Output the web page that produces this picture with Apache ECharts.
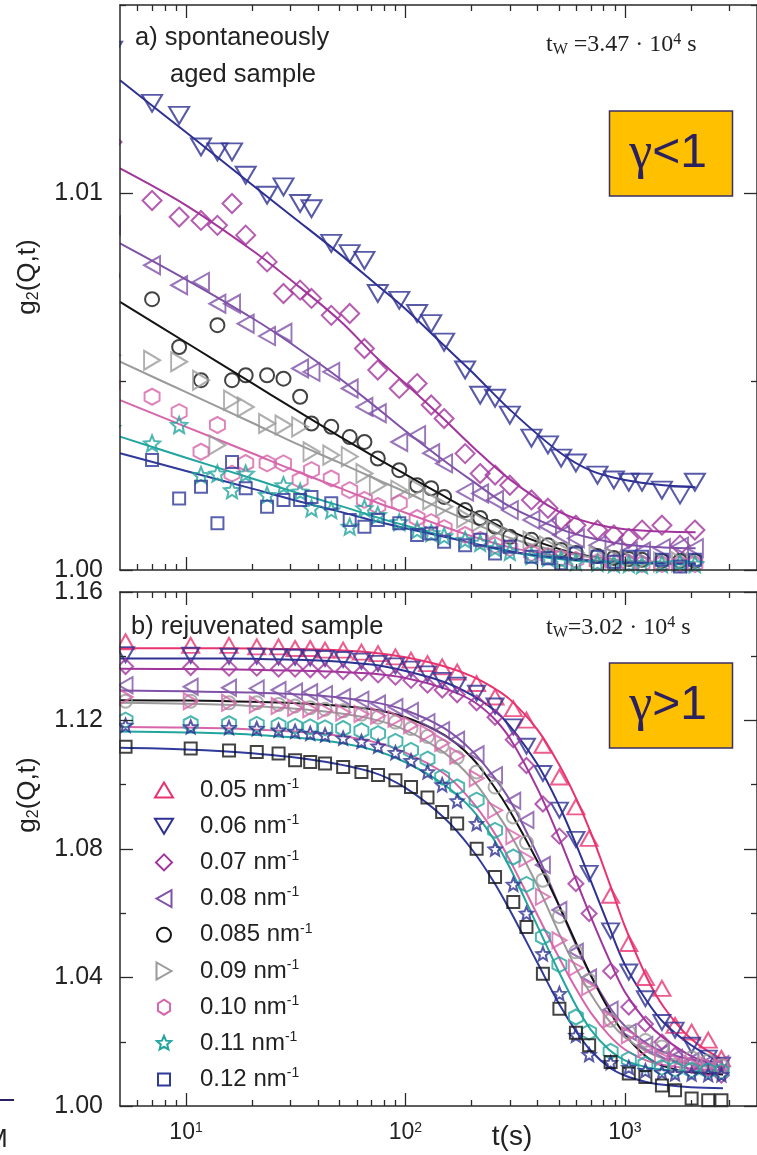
<!DOCTYPE html>
<html lang="en">
<head>
<meta charset="utf-8">
<title>g2(Q,t) of aged and rejuvenated samples</title>
<script src="https://cdn.jsdelivr.net/npm/echarts@6/dist/echarts.min.js"></script>
<style>
html,body{margin:0;padding:0;background:#fff;}
#chart{width:757px;height:1155px;}
</style>
</head>
<body>
<div id="chart"></div>
<script>
// ---------------------------------------------------------------- data
// Scattering vectors (nm^-1)
const qLabels = ['0.05', '0.06', '0.07', '0.08', '0.085', '0.09', '0.10', '0.11', '0.12'];

// Panel a (spontaneously aged): lag times in s, g2 - 1 in units of 1e-3
const tA = [4.6, 7, 9.3, 11.7, 13.9, 16.2, 18.7, 23.4, 27.8, 33.1, 37.3, 45.9, 55.7, 65, 74.8, 93.7, 113, 131, 150, 187, 219, 256, 299, 375, 446, 512, 598, 750, 891, 1042, 1197, 1475, 1783, 2085];
const a06 = [13.8, 12.39, 12.07, 11.23, 11.10, 11.10, 10.48, 9.95, 10.17, 9.73, 9.59, 8.67, 8.40, 8.22, 7.34, 7.16, 6.81, 6.54, 6.05, 5.31, 4.64, 4.56, 4.11, 3.50, 3.32, 2.97, 2.84, 2.52, 2.39, 2.33, 2.33, 2.12, 1.99, 2.33];
const a07 = [11.36, 9.81, 9.37, 9.28, 9.15, 9.73, 8.89, 8.18, 7.34, 7.43, 7.21, 6.76, 6.81, 5.88, 5.31, 4.82, 4.95, 4.38, 4.02, 3.09, 2.56, 2.52, 2.25, 1.86, 1.64, 1.33, 1.19, 1.06, 0.93, 0.84, 1.06, 1.19, 0.66, 1.06];
const a08 = [9.15, 8.09, 7.56, 7.65, 7.07, 7.07, 6.54, 6.21, 6.30, 5.35, 5.26, 5.26, 4.82, 4.33, 4.16, 3.40, 3.58, 3.10, 2.83, 2.08, 2.03, 1.86, 1.59, 1.33, 1.15, 0.93, 0.84, 0.66, 0.58, 0.49, 0.49, 0.58, 0.62, 0.58];
const a085 = [7.82, 7.19, 5.92, 5.04, 6.50, 5.04, 5.17, 5.17, 5.08, 4.60, 3.89, 3.80, 3.53, 3.40, 2.96, 2.65, 2.25, 2.17, 1.94, 1.59, 1.38, 1.15, 0.88, 0.80, 0.66, 0.53, 0.45, 0.37, 0.32, 0.29, 0.27, 0.24, 0.24, 0.24];
const a09 = [5.70, 5.57, 5.53, 5.04, 3.32, 4.51, 4.33, 3.89, 3.85, 3.80, 3.14, 3.05, 3.01, 2.56, 2.25, 2.12, 2.17, 1.86, 1.68, 1.38, 1.28, 1.06, 0.90, 0.77, 0.64, 0.53, 0.45, 0.37, 0.32, 0.27, 0.24, 0.21, 0.21, 0.19];
const a10 = [4.91, 4.60, 4.19, 3.14, 3.85, 2.56, 2.84, 2.83, 2.83, 2.39, 2.65, 2.43, 2.12, 1.86, 1.70, 1.78, 1.38, 1.27, 1.11, 0.93, 0.80, 0.66, 0.58, 0.45, 0.37, 0.32, 0.27, 0.21, 0.19, 0.19, 0.16, 0.16, 0.16, 0.16];
const a11 = [3.77, 3.36, 3.85, 2.52, 2.56, 2.12, 2.56, 1.99, 2.25, 2.08, 1.64, 1.59, 1.15, 1.64, 1.46, 1.27, 1.06, 0.98, 0.90, 0.80, 0.72, 0.58, 0.48, 0.37, 0.32, 0.27, 0.21, 0.19, 0.16, 0.16, 0.13, 0.16, 0.19, 0.16];
const a12 = [3.45, 2.92, 1.90, 2.21, 1.24, 2.87, 2.17, 1.68, 1.86, 1.86, 1.94, 1.77, 1.33, 1.15, 1.33, 1.24, 0.93, 0.97, 0.75, 0.66, 0.80, 0.44, 0.62, 0.35, 0.31, 0.18, 0.44, 0.35, 0.22, 0.35, 0.35, 0.27, 0.09, 0.27];

// Panel a fitted curves (g2 - 1, units 1e-3) sampled at tFitA
const tFitA = [5, 10, 20, 30, 50, 75, 100, 150, 200, 300, 500, 700, 1000, 1500, 2100];
const fa06 = [13.0, 11.62, 10.23, 9.42, 8.40, 7.54, 6.93, 5.96, 5.27, 4.25, 3.14, 2.64, 2.39, 2.25, 2.20];
const fa07 = [10.66, 9.68, 8.49, 7.70, 6.63, 5.60, 4.95, 4.0, 3.3, 2.4, 1.55, 1.25, 1.08, 1.02, 1.0];
const fa08 = [8.67, 7.71, 6.69, 6.02, 5.09, 4.28, 3.69, 2.90, 2.38, 1.68, 1.10, 0.85, 0.68, 0.60, 0.58];
const fa085 = [7.12, 6.04, 4.96, 4.33, 3.55, 2.95, 2.54, 1.96, 1.56, 1.03, 0.56, 0.36, 0.24, 0.18, 0.16];
const fa09 = [5.53, 4.72, 3.91, 3.42, 2.85, 2.39, 2.07, 1.59, 1.27, 0.85, 0.49, 0.34, 0.26, 0.22, 0.21];
const fa10 = [4.51, 3.80, 3.10, 2.68, 2.18, 1.78, 1.52, 1.15, 0.90, 0.60, 0.36, 0.26, 0.21, 0.18, 0.17];
const fa11 = [3.54, 2.98, 2.43, 2.10, 1.71, 1.39, 1.18, 0.90, 0.71, 0.48, 0.29, 0.22, 0.18, 0.16, 0.15];
const fa12 = [3.10, 2.63, 2.16, 1.88, 1.55, 1.28, 1.11, 0.88, 0.72, 0.50, 0.32, 0.25, 0.20, 0.18, 0.17];

// Panel b (rejuvenated): lag times in s, g2 - 1 in units of 1e-2
const tB = [5.3, 10.5, 15.7, 21, 26.4, 31.4, 36.8, 43, 52, 63, 75, 90, 106, 126, 147, 172, 211, 256, 310, 356, 423, 503, 598, 687, 861, 1042, 1240, 1475, 1693, 2014, 2397, 2754];
const b05 = [14.45, 14.34, 14.34, 14.29, 14.29, 14.24, 14.24, 14.19, 14.19, 14.13, 14.08, 13.98, 13.88, 13.77, 13.67, 13.51, 13.15, 12.73, 12.37, 12.01, 11.23, 10.24, 9.31, 8.33, 6.56, 5.06, 4.0, 3.66, 2.51, 2.30, 2.05, 1.48];
const b06 = [14.05, 14.03, 14.0, 14.0, 13.98, 13.97, 13.95, 13.93, 13.9, 13.85, 13.78, 13.7, 13.6, 13.45, 13.25, 13.1, 12.85, 12.45, 11.8, 11.2, 10.35, 9.21, 8.3, 7.24, 5.45, 4.17, 3.34, 2.6, 2.36, 1.89, 1.49, 1.27];
const b07 = [13.68, 13.65, 13.63, 13.63, 13.6, 13.6, 13.58, 13.55, 13.52, 13.48, 13.42, 13.35, 13.25, 13.1, 12.95, 12.8, 12.55, 12.1, 11.4, 10.6, 9.4, 8.4, 6.92, 5.99, 4.2, 3.08, 2.55, 1.99, 1.58, 1.27, 1.16, 0.96];
const b08 = [13.1, 13.05, 13.02, 13.0, 12.95, 12.9, 12.88, 12.82, 12.73, 12.65, 12.53, 12.42, 12.3, 11.95, 11.7, 11.4, 10.95, 10.3, 9.5, 8.9, 7.5, 6.1, 4.8, 4.0, 3.0, 2.3, 1.9, 1.65, 1.5, 1.4, 1.35, 1.3];
const b085 = [12.6, 12.6, 12.55, 12.55, 12.5, 12.45, 12.4, 12.35, 12.3, 12.2, 12.1, 11.95, 11.75, 11.5, 11.2, 10.85, 10.4, 9.93, 9.0, 8.2, 7.03, 5.9, 4.8, 3.91, 2.67, 2.3, 2.04, 1.84, 1.27, 1.5, 1.4, 1.25];
const b09 = [12.73, 12.6, 12.55, 12.5, 12.45, 12.4, 12.35, 12.3, 12.25, 12.2, 12.15, 12.05, 11.85, 11.6, 11.3, 10.9, 10.2, 9.21, 8.4, 7.7, 6.51, 5.16, 4.3, 3.7, 2.7, 2.2, 1.8, 1.5, 1.4, 1.3, 1.25, 1.2];
const b10 = [12.01, 11.9, 11.9, 11.88, 11.85, 11.82, 11.8, 11.77, 11.75, 11.68, 11.59, 11.35, 11.07, 10.8, 10.24, 9.93, 9.52, 8.58, 7.75, 6.9, 5.26, 4.4, 2.77, 2.3, 1.7, 1.45, 1.3, 1.2, 1.15, 1.12, 1.1, 1.08];
const b11 = [11.85, 11.8, 11.78, 11.75, 11.7, 11.66, 11.6, 11.55, 11.45, 11.35, 11.2, 11.0, 10.75, 10.4, 10.0, 9.5, 8.79, 8.0, 6.9, 6.0, 4.74, 3.5, 2.2, 1.6, 1.35, 1.2, 1.1, 1.05, 1.0, 1.0, 0.98, 0.97];
const b12 = [11.18, 11.13, 11.07, 11.02, 10.97, 10.76, 10.71, 10.66, 10.55, 10.40, 10.30, 10.14, 9.93, 9.6, 9.15, 8.79, 8.01, 7.13, 6.35, 5.57, 4.12, 3.03, 2.28, 1.89, 1.37, 1.01, 0.9, 0.64, 0.49, 0.23, 0.18, 0.18];

// Panel b fitted curves (g2 - 1, units 1e-2) sampled at tFitB
const tFitB = [5, 10, 20, 40, 70, 100, 150, 200, 250, 300, 400, 500, 600, 700, 850, 1000, 1250, 1500, 2000, 2800];
const fb05 = [14.25, 14.25, 14.24, 14.21, 14.12, 13.97, 13.69, 13.38, 13.03, 12.65, 11.71, 10.64, 9.57, 8.50, 6.94, 5.59, 4.04, 3.09, 2.09, 1.43];
const fb06 = [13.93, 13.93, 13.92, 13.87, 13.74, 13.54, 13.20, 12.80, 12.36, 11.82, 10.63, 9.37, 8.13, 7.0, 5.55, 4.4, 3.3, 2.6, 1.9, 1.32];
const fb07 = [13.61, 13.6, 13.58, 13.54, 13.46, 13.32, 13.0, 12.63, 12.10, 11.43, 9.87, 8.37, 7.02, 5.88, 4.54, 3.55, 2.63, 2.12, 1.56, 1.19];
const fb08 = [12.93, 12.91, 12.87, 12.78, 12.58, 12.32, 11.76, 11.07, 10.29, 9.5, 7.81, 6.26, 5.0, 4.06, 3.09, 2.49, 1.96, 1.68, 1.45, 1.36];
const fb085 = [12.63, 12.62, 12.58, 12.5, 12.35, 12.1, 11.55, 10.85, 10.0, 9.17, 7.61, 6.25, 5.06, 4.06, 2.97, 2.22, 1.54, 1.24, 1.05, 0.98];
const fb09 = [12.55, 12.52, 12.45, 12.3, 12.05, 11.7, 11.0, 10.2, 9.3, 8.47, 6.85, 5.39, 4.28, 3.48, 2.64, 2.14, 1.70, 1.48, 1.31, 1.21];
const fb10 = [11.8, 11.78, 11.72, 11.6, 11.35, 11.0, 10.35, 9.5, 8.58, 7.63, 5.94, 4.63, 3.64, 2.90, 2.19, 1.76, 1.42, 1.28, 1.17, 1.11];
const fb11 = [11.66, 11.63, 11.56, 11.4, 11.1, 10.7, 10.0, 9.25, 8.35, 7.4, 5.59, 4.18, 3.11, 2.37, 1.74, 1.42, 1.21, 1.13, 1.09, 1.07];
const fb12 = [11.15, 11.1, 10.98, 10.75, 10.4, 9.9, 8.97, 8.0, 7.03, 6.08, 4.45, 3.19, 2.32, 1.72, 1.2, 0.95, 0.75, 0.66, 0.58, 0.55];

// Axis ticks
const xTicks = [10, 100, 1000];
const xMinorTicks = [6, 7, 8, 9, 20, 30, 40, 50, 60, 70, 80, 90, 200, 300, 400, 500, 600, 700, 800, 900, 2000, 3000];
const yTicksA = [1.00, 1.01];
const yMinorA = [1.005, 1.015];
const yTicksB = [1.00, 1.04, 1.08, 1.12, 1.16];
const yMinorB = [1.02, 1.06, 1.10, 1.14];

// ------------------------------------------------------------- styling
const SANS = '"Liberation Sans", Arial, Helvetica, sans-serif';
const SERIF = '"Liberation Serif", "Times New Roman", serif';
const INK = '#222';
const AXIS = '#2a2a2a';
const C = {
  pink: '#e8336f', navy: '#2e3192', magenta: '#a2359c', purple: '#7f52a8',
  black: '#141414', grey: '#9a9a9a', rose: '#d765aa', teal: '#22a59e', blue: '#2f3a9a'
};

// Marker outlines in unit coordinates
const SHAPES = {
  triUp:   [[0, -1], [1, 1], [-1, 1]],
  triDown: [[-1, -1], [1, -1], [0, 1]],
  triLeft: [[-1, 0], [1, -1], [1, 1]],
  triRight:[[1, 0], [-1, -1], [-1, 1]],
  diamond: [[0, -1], [1, 0], [0, 1], [-1, 0]],
  square:  [[-1, -1], [1, -1], [1, 1], [-1, 1]],
  hexagon: [[0, -1], [0.866, -0.5], [0.866, 0.5], [0, 1], [-0.866, 0.5], [-0.866, -0.5]],
  star:    [[0, -1], [0.265, -0.364], [0.951, -0.309], [0.428, 0.139], [0.588, 0.809],
            [0, 0.45], [-0.588, 0.809], [-0.428, 0.139], [-0.951, -0.309], [-0.265, -0.364]]
};
function symbolOf(name) {
  if (name === 'circle') return 'circle';
  return 'path://M' + SHAPES[name].map(p => p[0] + ',' + p[1]).join('L') + 'Z';
}

// Series appearance, panel a
const styleA = [
  { q: '0.06',  v: a06,  f: fa06,  shape: 'triDown',  size: [20, 17], mark: C.navy,    line: C.navy },
  { q: '0.07',  v: a07,  f: fa07,  shape: 'diamond',  size: [19, 19], mark: C.magenta, line: C.magenta },
  { q: '0.08',  v: a08,  f: fa08,  shape: 'triLeft',  size: [16, 18], mark: C.purple,  line: C.purple },
  { q: '0.085', v: a085, f: fa085, shape: 'circle',   size: [14, 14], mark: C.black,   line: C.black },
  { q: '0.09',  v: a09,  f: fa09,  shape: 'triRight', size: [16, 19], mark: C.grey,    line: C.grey },
  { q: '0.10',  v: a10,  f: fa10,  shape: 'hexagon',  size: [15, 16], mark: C.rose,    line: C.rose },
  { q: '0.11',  v: a11,  f: fa11,  shape: 'star',     size: [16, 16], mark: C.teal,    line: C.teal },
  { q: '0.12',  v: a12,  f: fa12,  shape: 'square',   size: [12, 12], mark: C.blue,    line: C.blue }
];
// Series appearance, panel b
const styleB = [
  { q: '0.05',  v: b05,  f: fb05,  shape: 'triUp',    size: [17, 15], mark: C.pink,    line: C.pink },
  { q: '0.06',  v: b06,  f: fb06,  shape: 'triDown',  size: [17, 15], mark: C.navy,    line: C.navy },
  { q: '0.07',  v: b07,  f: fb07,  shape: 'diamond',  size: [15, 15], mark: C.magenta, line: C.magenta },
  { q: '0.08',  v: b08,  f: fb08,  shape: 'triLeft',  size: [14, 16], mark: C.purple,  line: C.purple },
  { q: '0.085', v: b085, f: fb085, shape: 'circle',   size: [13, 13], mark: C.grey,    line: C.black },
  { q: '0.09',  v: b09,  f: fb09,  shape: 'triRight', size: [14, 16], mark: C.rose,    line: C.grey },
  { q: '0.10',  v: b10,  f: fb10,  shape: 'hexagon',  size: [14, 15], mark: C.teal,    line: C.rose },
  { q: '0.11',  v: b11,  f: fb11,  shape: 'star',     size: [13, 13], mark: C.navy,    line: C.teal },
  { q: '0.12',  v: b12,  f: fb12,  shape: 'square',   size: [12, 12], mark: C.black,   line: C.blue }
];
// Legend entries (panel b)
const legendStyle = [
  { shape: 'triUp',    size: [18, 15], color: C.pink },
  { shape: 'triDown',  size: [18, 15], color: C.navy },
  { shape: 'diamond',  size: [16, 16], color: C.magenta },
  { shape: 'triLeft',  size: [15, 17], color: C.purple },
  { shape: 'circle',   size: [14, 14], color: C.black },
  { shape: 'triRight', size: [15, 17], color: C.grey },
  { shape: 'hexagon',  size: [14, 15], color: C.rose },
  { shape: 'star',     size: [15, 15], color: C.teal },
  { shape: 'square',   size: [12, 12], color: C.blue }
];

// ---------------------------------------------------------------- axes
const GRIDS = [
  { left: 120, top: 5, width: 642, height: 565 },
  { left: 120, top: 592, width: 642, height: 514 }
];
const tickLine = { color: AXIS, width: 1.3 };

function xAxesFor(g, labelled) {
  const base = {
    type: 'log', logBase: 10, min: 5, max: 4000, gridIndex: g, z: 10,
    splitLine: { show: false }, silent: true,
    axisLine: { show: true, onZero: false, lineStyle: { color: AXIS, width: 1.5 } }
  };
  const major = { show: true, inside: true, length: 13, customValues: xTicks, lineStyle: tickLine };
  const minor = { show: true, inside: true, length: 6, customValues: xMinorTicks, lineStyle: tickLine };
  const label = labelled ? {
    show: true, customValues: xTicks, margin: 15,
    fontFamily: SANS, fontSize: 23, color: INK, lineHeight: 24,
    formatter: v => '10{sup|' + Math.round(Math.log10(v)) + '}',
    rich: { sup: { fontFamily: SANS, fontSize: 14, lineHeight: 14, verticalAlign: 'top', color: INK } }
  } : { show: false };
  return [
    Object.assign({}, base, { position: 'bottom', axisTick: major, axisLabel: label }),
    Object.assign({}, base, { position: 'bottom', axisLine: { show: false }, axisTick: minor, axisLabel: { show: false } }),
    Object.assign({}, base, { position: 'top', axisTick: major, axisLabel: { show: false } }),
    Object.assign({}, base, { position: 'top', axisLine: { show: false }, axisTick: minor, axisLabel: { show: false } })
  ];
}
function yAxesFor(g, min, max, majorVals, minorVals) {
  const base = {
    type: 'value', min: min, max: max, gridIndex: g, z: 10,
    splitLine: { show: false }, silent: true,
    axisLine: { show: true, onZero: false, lineStyle: { color: AXIS, width: 1.5 } }
  };
  const major = { show: true, inside: true, length: 13, customValues: majorVals, lineStyle: tickLine };
  const minor = { show: true, inside: true, length: 6, customValues: minorVals, lineStyle: tickLine };
  return [
    Object.assign({}, base, {
      position: 'left', axisTick: major,
      axisLabel: { show: true, customValues: majorVals, margin: 17, fontFamily: SANS, fontSize: 25, color: INK,
                   formatter: v => v.toFixed(2) }
    }),
    Object.assign({}, base, { position: 'left', axisLine: { show: false }, axisTick: minor, axisLabel: { show: false } }),
    Object.assign({}, base, { position: 'right', axisTick: major, axisLabel: { show: false } }),
    Object.assign({}, base, { position: 'right', axisLine: { show: false }, axisTick: minor, axisLabel: { show: false } })
  ];
}

// -------------------------------------------------------------- series
function panelSeries(styles, times, fitTimes, unit, axisIndex) {
  const out = [];
  styles.forEach(s => {
    out.push({
      type: 'line', name: 'fit ' + s.q, xAxisIndex: axisIndex, yAxisIndex: axisIndex,
      data: fitTimes.map((t, i) => [t, 1 + s.f[i] * unit]),
      showSymbol: false, symbol: 'none', smooth: 0.35, clip: true,
      lineStyle: { color: s.line, width: 2 }, silent: true, z: 2
    });
    out.push({
      type: 'scatter', name: s.q, xAxisIndex: axisIndex, yAxisIndex: axisIndex,
      data: times.map((t, i) => [t, 1 + s.v[i] * unit]),
      symbol: symbolOf(s.shape), symbolSize: s.size, clip: false,
      itemStyle: { color: 'rgba(0,0,0,0)', borderColor: s.mark, borderWidth: 2 },
      silent: true, z: 2
    });
  });
  return out;
}

// ------------------------------------------------------------- graphic
function text(x, y, str, extra) {
  const style = Object.assign({
    text: str, fill: INK, fontFamily: SANS, fontSize: 25,
    align: 'left', verticalAlign: 'middle', textAlign: 'left', textVerticalAlign: 'middle'
  }, extra || {});
  return { type: 'text', x: x, y: y, z: 20, silent: true, style: style };
}
function icon(cx, cy, st) {
  const w = st.size[0] / 2, h = st.size[1] / 2;
  const style = { fill: 'none', stroke: st.color, lineWidth: 2 };
  if (st.shape === 'circle') {
    return { type: 'circle', z: 20, silent: true, shape: { cx: cx, cy: cy, r: w }, style: style };
  }
  return {
    type: 'polygon', z: 20, silent: true,
    shape: { points: SHAPES[st.shape].map(p => [cx + p[0] * w, cy + p[1] * h]) }, style: style
  };
}
const supRich = { sup: { fontSize: 14, lineHeight: 12, verticalAlign: 'top' } };

const graphics = [];
// white strip left of the plot so markers sitting on the axis are cut at the frame
graphics.push({ type: 'rect', z: 3, silent: true, shape: { x: 0, y: 0, width: 119.2, height: 1112 }, style: { fill: '#fff' } });

// axis titles
const yTitleRich = { sub: { fontSize: 16, lineHeight: 14, verticalAlign: 'bottom' } };
[277, 795].forEach(cy => {
  graphics.push({
    type: 'text', x: 28, y: cy, rotation: Math.PI / 2, z: 20, silent: true,
    style: { text: 'g{sub|2}(Q,t)', fill: INK, fontFamily: SANS, fontSize: 26, lineHeight: 28,
             align: 'center', verticalAlign: 'middle', textAlign: 'center', textVerticalAlign: 'middle', rich: yTitleRich }
  });
});
graphics.push(text(512, 1137, 't(s)', { fontSize: 28, align: 'center', textAlign: 'center' }));

// panel annotations
graphics.push(text(135, 38, 'a) spontaneously', { fontSize: 25.5 }));
graphics.push(text(170, 75, 'aged sample', { fontSize: 25.5 }));
graphics.push(text(131, 627, 'b) rejuvenated sample', { fontSize: 25.5 }));
const twRich = {
  sub: { fontFamily: SERIF, fontSize: 16, lineHeight: 12, verticalAlign: 'bottom' },
  sup: { fontFamily: SERIF, fontSize: 16, lineHeight: 12, verticalAlign: 'top' }
};
graphics.push(text(546, 45, 't{sub|W} =3.47 \u00b7 10{sup|4} s', { fontFamily: SERIF, fontSize: 24, lineHeight: 26, rich: twRich }));
graphics.push(text(546, 628, 't{sub|W}=3.02 \u00b7 10{sup|4} s', { fontFamily: SERIF, fontSize: 24, lineHeight: 26, rich: twRich }));

// gamma boxes
[[111, '<'], [663, '>']].forEach(([top, rel]) => {
  graphics.push({ type: 'rect', z: 20, silent: true, shape: { x: 609.5, y: top, width: 123, height: 85 },
                  style: { fill: '#ffc000', stroke: '#3b2f66', lineWidth: 1.5 } });
  graphics.push(text(668, top + 43, '{g|\u03b3}' + rel + '1', {
    fontSize: 48, fill: '#2b2160', align: 'center', textAlign: 'center', lineHeight: 54,
    rich: { g: { fontFamily: SERIF, fontSize: 52, lineHeight: 54 } }
  }));
});

// legend
legendStyle.forEach((st, i) => {
  const cy = 790 + i * 36.2;
  graphics.push(icon(164, cy, st));
  graphics.push(text(200, cy, qLabels[i] + ' nm{sup|-1}', { fontSize: 24, lineHeight: 26, rich: supRich }));
});

// page-edge remnants at lower left
graphics.push({ type: 'line', z: 20, silent: true, shape: { x1: 0, y1: 1100, x2: 14, y2: 1100 }, style: { stroke: '#2b2160', lineWidth: 2 } });
graphics.push(text(-14, 1140, 'M', { fontSize: 26 }));

// --------------------------------------------------------------- chart
const chart = echarts.init(document.getElementById('chart'), null, { renderer: 'canvas' });
chart.setOption({
  animation: false,
  backgroundColor: '#fff',
  grid: GRIDS,
  xAxis: xAxesFor(0, false).concat(xAxesFor(1, true)),
  yAxis: yAxesFor(0, 1.0, 1.015, yTicksA, yMinorA).concat(yAxesFor(1, 1.0, 1.16, yTicksB, yMinorB)),
  series: panelSeries(styleA, tA, tFitA, 1e-3, 0).concat(panelSeries(styleB, tB, tFitB, 1e-2, 4)),
  graphic: graphics
});
</script>
</body>
</html>
